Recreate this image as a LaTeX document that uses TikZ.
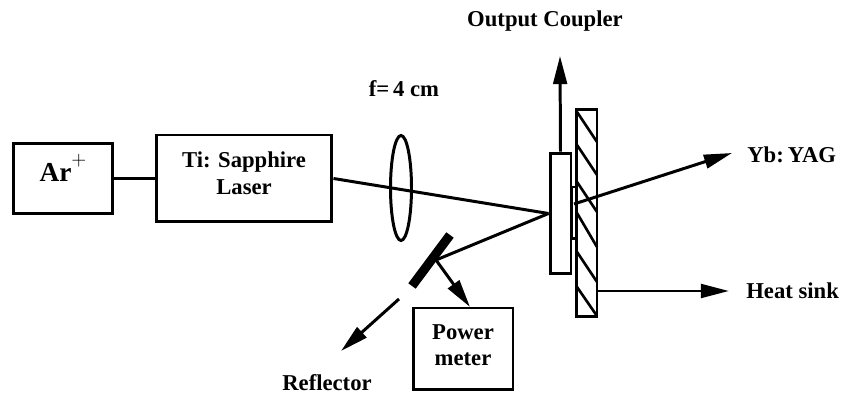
\documentclass[tikz,border=0pt]{standalone}
\usepackage{fontspec}
\setmainfont{Liberation Serif}
\usepackage{tikz}
\usetikzlibrary{arrows.meta, shapes.geometric}
\tikzset{
  beam/.style={line width=1.7pt},
  ray/.style={line width=1.7pt, -{Triangle[length=16pt, width=7.8pt]}},
  box/.style={draw, line width=1.7pt, fill=white, align=center, inner sep=0pt,
    font=\fontsize{12.9}{15}\selectfont\bfseries},
  label/.style={inner sep=0pt, font=\fontsize{12.9}{15}\selectfont\bfseries},
}
\begin{document}
\begin{tikzpicture}[x=0.02cm, y=-0.02cm]
        \useasboundingbox (0,0) rectangle (842,394);
        % Pump lasers
        \node[box, minimum width=2cm, minimum height=1.4cm, text depth=7pt,
          font=\fontsize{15.6}{18}\selectfont\bfseries] (ar) at (63,178.5) {Ar\raisebox{9pt}[0pt][0pt]{$\scriptstyle +$}};
        \node[box, minimum width=3.52cm, minimum height=1.74cm, text depth=6pt] (ti) at (244,178.5) {Ti: Sapphire\\Laser};
        \draw[beam] (ar) -- (ti);
        % Crystal and heat sink
        \node[box, minimum width=0.42cm, minimum height=2.42cm] (plate) at (560.5,213.5) {};
        \node[box, minimum width=0.1cm, minimum height=1.04cm] (crystal) at (573.5,213) {};
        \node[box, minimum width=0.42cm, minimum height=4.16cm] (sink) at (586.5,213) {};
        \foreach \ya/\yb in {112/142, 145/175, 182/212, 213/247, 252/282, 287/316}
          \draw[line width=1.5pt] (577,\ya) -- (597,\yb);
        % Focusing lens
        \draw[beam] (ti.east) -- (plate.west);
        \node[draw, ellipse, line width=1.7pt, inner sep=0pt, minimum width=0.42cm, minimum height=2.1cm] (lens) at (401,188) {};
        \node[label] (focal) at (404,89) {f=\,4 cm};
        % Output arrows
        \coordinate (outtip) at (560,56);
        \coordinate (spot) at (574,204);
        \coordinate (yagtip) at (732,153);
        \coordinate (sinktip) at (729,291);
        \draw[ray] (plate.north) -- (outtip);
        \draw[ray] (spot) -- (yagtip);
        \draw[ray] (sink.east |- sinktip) -- (sinktip);
        \node[label] (coupler) at (545,21) {Output Coupler};
        \node[label, anchor=west] (yag) at (747,155) {Yb:\kern-1pt\ YAG};
        \node[label, anchor=west] (heat) at (746,291) {Heat sink};
        % Reflector and power meter
        \coordinate (mirrorA) at (450,235);
        \coordinate (mirrorB) at (412,286);
        \coordinate (hit) at (436,260);
        \coordinate (refA) at (399,299);
        \coordinate (refB) at (341,351);
        \draw[line width=5.2pt] (mirrorA) -- (mirrorB);
        \draw[beam] (plate.west) -- (hit);
        \node[box, minimum width=2cm, minimum height=1.64cm, text depth=4.7pt] (meter) at (463,349) {Power\\meter};
        \coordinate (metertip) at (470,307);
        \draw[ray] (hit) -- (metertip);
        \draw[ray] (refA) -- (refB);
        \node[label] (reflector) at (327,383) {Reflector};
      \end{tikzpicture}
\end{document}
